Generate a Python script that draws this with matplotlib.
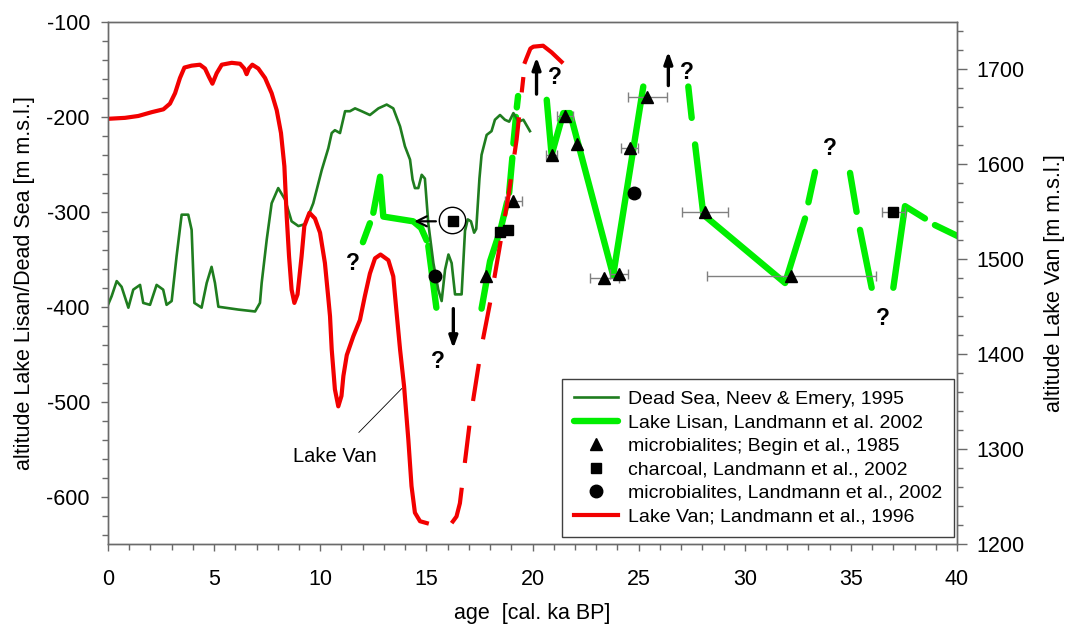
import matplotlib
matplotlib.use('Agg')
import matplotlib.pyplot as plt
import numpy as np

plt.rcParams['font.family'] = ['Liberation Sans', 'DejaVu Sans']
plt.rcParams['axes.unicode_minus'] = False

#Dead Sea, Neev & Emery 1995 (left axis, m m.s.l.)
edadMarMuerto = [0.0, 0.17, 0.41, 0.64, 0.96, 1.19, 1.51, 1.66, 1.98, 2.29, 2.6, 2.76, 3.0, 3.23, 3.47,
                 3.78, 3.94, 4.07, 4.41, 4.65, 4.88, 5.04, 5.2, 6.14, 6.93, 7.16, 7.24, 7.48, 7.71, 8.02,
                 8.34, 8.65, 8.97, 9.28, 9.67, 10.07, 10.38, 10.54, 10.69, 10.93, 11.17, 11.4, 11.64,
                 11.95, 12.34, 12.74, 13.13, 13.44, 13.76, 13.99, 14.23, 14.35, 14.46, 14.62, 14.78,
                 14.93, 15.09, 15.33, 15.56, 15.72, 15.88, 16.04, 16.19, 16.35, 16.66, 16.82, 16.95,
                 17.1, 17.25, 17.35, 17.5, 17.6, 17.84, 18.07, 18.23, 18.47, 18.7, 18.9, 19.1, 19.34,
                 19.57, 19.88]
nivelMarMuerto = [-398, -389, -373, -379, -401, -382, -377, -396, -398, -377, -382, -398, -394, -347, -303,
                  -303, -319, -396, -401, -375, -358, -375, -400, -403, -405, -396, -375, -329, -291, -275,
                  -287, -310, -315, -313, -291, -256, -233, -217, -214, -217, -194, -194, -191,
                  -194, -198, -191, -187, -191, -210, -231, -245, -266, -275, -275, -261,
                  -265, -312, -354, -382, -394, -361, -345, -354, -387, -387, -320, -308,
                  -310, -322, -318, -265, -240, -219, -215, -203, -198, -203, -205, -196, -205,
                  -203, -215]

#Lake Lisan, Landmann et al. 2002 (left axis); NaN separa los tramos de la linea discontinua
edadLisan = [12.01, 12.34, np.nan,
             12.5, 12.82, 12.97, 14.38, 14.75, 15.01, np.nan,
             15.09, 15.47, np.nan,
             17.6, 18.0, 18.5, 18.8, np.nan,
             18.9, 19.05, np.nan, 19.1, 19.22, np.nan, 19.26, 19.32, np.nan,
             20.67, 20.9, 21.45, 21.77, 23.8, 25.22, np.nan,
             27.34, 27.5, np.nan,
             27.66, 28.05, 31.9, 32.84, np.nan,
             33.0, 33.31, np.nan,
             34.96, 35.27, np.nan,
             35.43, 35.98, np.nan,
             37.0, 37.55, 38.49, np.nan,
             38.96, 40.07]
nivelLisan = [-332, -312, np.nan,
              -301, -263, -305, -310, -317, -330, np.nan,
              -336, -401, np.nan,
              -402, -352, -318, -290, np.nan,
              -280, -243, np.nan, -228, -200, np.nan, -190, -178, np.nan,
              -182, -240, -196, -196, -367, -168, np.nan,
              -168, -201, np.nan,
              -229, -303, -375, -307, np.nan,
              -290, -258, np.nan,
              -259, -300, np.nan,
              -319, -380, np.nan,
              -380, -294, -307, np.nan,
              -314, -326]

#Lake Van, Landmann et al. 1996 (right axis, m a.s.l.)
edadVan = [0, 0.8, 1.43, 2.06, 2.61, 2.92, 3.16, 3.39, 3.6, 3.94, 4.33, 4.57, 4.76, 4.92, 5.12, 5.36,
           5.83, 6.22, 6.42, 6.53, 6.64, 6.8, 7.08, 7.4, 7.71, 7.95, 8.15, 8.31, 8.42, 8.53, 8.65, 8.78,
           8.93, 9.12, 9.25, 9.49, 9.75, 9.99, 10.22, 10.38, 10.46, 10.54, 10.69, 10.85, 11.0, 11.09,
           11.25, 11.56, 11.87, 12.1, 12.34, 12.58, 12.84, 13.21, 13.44, 13.6, 13.76, 13.95, 14.15,
           14.3, 14.46, 14.7, 15.02]
nivelVan = [1648, 1649, 1651, 1655, 1658, 1664, 1675, 1691, 1702, 1704, 1705, 1701, 1692, 1685, 1696, 1705,
            1707, 1706, 1701, 1695, 1701, 1705, 1701, 1691, 1675, 1657, 1633, 1598, 1545, 1503, 1468, 1454,
            1463, 1503, 1535, 1549, 1543, 1528, 1496, 1459, 1440, 1405, 1363, 1345, 1356, 1377,
            1399, 1419, 1436, 1461, 1485, 1501, 1505, 1499, 1482, 1443, 1405, 1366, 1310,
            1261, 1233, 1224, 1222]
edadVanDisc = [16.19, 16.42, 16.58, 17.06, 17.6, 18.0, 18.86, 19.25, 19.57]
nivelVanDisc = [1222, 1229, 1243, 1331, 1408, 1454, 1566, 1626, 1692]
edadVanTope = [19.65, 19.72, 19.9, 20.04, 20.5, 20.9, 21.37]
nivelVanTope = [1708, 1712, 1722, 1724, 1725, 1718, 1708]

#Puntos: microbialitas (Begin 1985), carbon y microbialitas (Landmann 2002)
edadBegin = [17.8, 19.1, 20.9, 21.53, 22.08, 23.39, 24.07, 24.59, 25.41, 28.13, 32.2]
nivelBegin = [-368, -289, -240, -199, -229, -370, -366, -233, -179, -300, -368]
errBegin = [0, 0.39, 0.27, 0.39, 0, 0.67, 0.43, 0.4, 0.93, 1.07, 4.0]
edadCarbon = [16.27, 18.47, 18.86, 37.0]
nivelCarbon = [-310, -321, -319, -300]
errCarbon = [0.15, 0, 0, 0.55]
edadMicro = [15.41, 24.8]
nivelMicro = [-368, -280]
errMicro = [0, 0.23]

#Signos de interrogacion (edad, nivel)
preguntas = [(11.54, -354), (15.55, -458), (21.06, -159), (27.28, -153), (34.02, -233), (36.51, -412)]

verdeOscuro = '#1f7d1f'
verdeClaro = '#00ee00'
rojo = '#f20000'
gris = '#6a6a6a'

fig = plt.figure(figsize=(10.66, 6.26), dpi=100)
ax = fig.add_axes([108 / 1066, 1 - 544 / 626, 849 / 1066, 522 / 626])
ax2 = ax.twinx()

#Curvas
lineaMuerto, = ax.plot(edadMarMuerto, nivelMarMuerto, color=verdeOscuro, lw=1.9, zorder=3,
                       solid_joinstyle='round')
lineaLisan, = ax.plot(edadLisan, nivelLisan, color=verdeClaro, lw=4.6, solid_capstyle='round', zorder=2)
lineaVan, = ax2.plot(edadVan, nivelVan, color=rojo, lw=3.0, zorder=2, solid_joinstyle='round')
ax2.plot(edadVanDisc, nivelVanDisc, color=rojo, lw=3.0, dashes=(9, 6), zorder=2)
ax2.plot(edadVanTope, nivelVanTope, color=rojo, lw=3.0, zorder=2, solid_joinstyle='round')

#Barras de error y marcadores
errKw = dict(fmt='none', ecolor='#808080', elinewidth=1.0, capsize=3.5, capthick=1.0, zorder=4)
ax.errorbar(edadBegin, nivelBegin, xerr=errBegin, **errKw)
ax.errorbar(edadCarbon, nivelCarbon, xerr=errCarbon, **errKw)
ax.errorbar(edadMicro, nivelMicro, xerr=errMicro, **errKw)
puntosBegin, = ax.plot(edadBegin, nivelBegin, '^', color='k', ms=9, ls='none', zorder=5)
puntosCarbon, = ax.plot(edadCarbon, nivelCarbon, 's', color='k', ms=7.5, ls='none', zorder=5)
puntosMicro, = ax.plot(edadMicro, nivelMicro, 'o', color='k', ms=9, ls='none', zorder=5)

#Circulo alrededor del carbon y flechas
ax.plot([16.19], [-309], 'o', mfc='none', mec='k', mew=1.0, ms=19, zorder=5)
ax.annotate('', xy=(14.3, -310), xytext=(15.58, -310),
            arrowprops=dict(arrowstyle='->', lw=1.6, color='k', mutation_scale=18), zorder=6)
flecha = dict(arrowstyle='-|>,head_width=0.25,head_length=0.7', lw=2.4, color='k', shrinkA=0, shrinkB=0)
ax.annotate('', xy=(16.27, -444), xytext=(16.27, -402), arrowprops=flecha)
ax.annotate('', xy=(20.19, -137), xytext=(20.19, -176), arrowprops=flecha)
ax.annotate('', xy=(26.4, -131), xytext=(26.4, -167), arrowprops=flecha)
for xq, yq in preguntas:
    ax.text(xq, yq, '?', fontsize=16.5, fontweight='bold', ha='center', va='center', zorder=6)

#Etiqueta Lake Van
ax.annotate('Lake Van', xy=(13.85, -486), xytext=(10.7, -558), fontsize=14.5, ha='center', va='center',
            arrowprops=dict(arrowstyle='-', lw=0.6, color='k', shrinkA=12, shrinkB=0))

#Ejes
ax.set_xlim(0, 40)
ax.set_ylim(-650, -100)
ax2.set_ylim(1200, 1750)
ax.set_xticks(np.arange(0, 41, 5))
ax.set_xticks(np.arange(0, 41, 1), minor=True)
ax.set_yticks(np.arange(-600, -99, 100))
ax.set_yticks(np.arange(-640, -99, 20), minor=True)
ax2.set_yticks(np.arange(1200, 1701, 100))
ax2.set_yticks(np.arange(1200, 1751, 20), minor=True)
for a in (ax, ax2):
    for s in a.spines.values():
        s.set_color(gris)
        s.set_linewidth(1.0)
    a.tick_params(which='both', direction='out', color=gris, labelsize=15.5, width=1.0)
    a.tick_params(which='major', length=5)
    a.tick_params(which='minor', length=4)
ax.tick_params(axis='x', pad=13)
ax.tick_params(axis='y', pad=8)
ax2.tick_params(axis='y', which='major', length=7, pad=7)

ax.set_xlabel('age  [cal. ka BP]', fontsize=15.5, labelpad=9)
ax.set_ylabel('altitude Lake Lisan/Dead Sea [m m.s.l.]', fontsize=15.5, labelpad=8)
ax2.set_ylabel('altitude Lake Van [m m.s.l.]', fontsize=15.5, labelpad=14)

#Leyenda
manejadores = [lineaMuerto, lineaLisan, puntosBegin, puntosCarbon, puntosMicro, lineaVan]
etiquetas = ['Dead Sea, Neev & Emery, 1995', 'Lake Lisan, Landmann et al. 2002',
             'microbialites; Begin et al., 1985', 'charcoal, Landmann et al., 2002',
             'microbialites, Landmann et al., 2002', 'Lake Van; Landmann et al., 1996']
leyenda = ax2.legend(manejadores, etiquetas, loc='lower right', bbox_to_anchor=(0.9965, 0.0134),
                     borderaxespad=0, fontsize=14.0, frameon=True, fancybox=False, framealpha=1,
                     edgecolor='#404040', handlelength=2.3, handletextpad=0.5, labelspacing=0.3,
                     borderpad=0.6)
leyenda.get_frame().set_linewidth(1.0)

fig.savefig('out.png', dpi=100)
